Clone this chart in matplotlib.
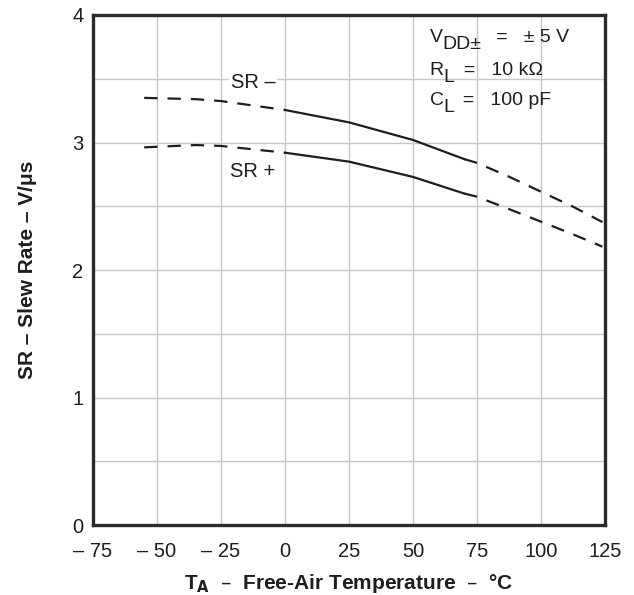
import matplotlib.pyplot as plt
import numpy as np

plt.rcParams['font.family'] = ['Liberation Sans', 'DejaVu Sans']

# temperature points (deg C)
temps = [-55, -35, -25, 0, 25, 50, 70, 75, 87.5, 100, 112.5, 124]
sr_minus = [3.35, 3.34, 3.325, 3.255, 3.158, 3.02, 2.87, 2.84, 2.732, 2.614, 2.497, 2.376]
sr_plus = [2.962, 2.98, 2.973, 2.92, 2.85, 2.73, 2.60, 2.575, 2.478, 2.379, 2.28, 2.183]

xticks = [-75, -50, -25, 0, 25, 50, 75, 100, 125]
xtick_labels = ['\u2013 75', '\u2013 50', '\u2013 25', '0', '25', '50', '75', '100', '125']
yticks = [0, 1, 2, 3, 4]

INK = '#1e1e1e'

fig = plt.figure(figsize=(6.34, 5.95), dpi=100)
ax = fig.add_axes([0.1467, 0.1176, 0.8075, 0.8572])

t = np.array(temps)
dash = (0, (6, 4.5))
for vals in (sr_minus, sr_plus):
    v = np.array(vals)
    lo = t <= 0
    mid = (t >= 0) & (t <= 70)
    hi = t >= 70
    ax.plot(t[lo], v[lo], color=INK, lw=1.6, ls=dash, zorder=3)
    ax.plot(t[mid], v[mid], color=INK, lw=1.6, zorder=3)
    ax.plot(t[hi], v[hi], color=INK, lw=1.6, ls=dash, zorder=3)

ax.set_xlim(-75, 125)
ax.set_ylim(0, 4)
ax.set_xticks(xticks)
ax.set_xticklabels(xtick_labels)
ax.set_yticks(yticks)
ax.set_yticks(np.arange(0, 4.01, 0.5), minor=True)
ax.grid(True, which='both', color='#c6c6ce', lw=1.0, zorder=0)
ax.tick_params(which='both', length=0, labelsize=14.5, colors=INK)
ax.tick_params(axis='x', pad=12)
ax.tick_params(axis='y', pad=7)
for s in ax.spines.values():
    s.set_linewidth(2.4)
    s.set_color('#2a2a2a')

ax.set_xlabel(r'T$_{\mathbf{A}}$  \u2013  Free-Air Temperature  \u2013  \u00b0C'
              .replace('\\u2013', '\u2013').replace('\\u00b0', '\u00b0'),
              fontsize=15, fontweight='bold', labelpad=8, color=INK)
ax.set_ylabel('SR \u2013 Slew Rate \u2013 V/\u03bcs', fontsize=15, fontweight='bold',
              labelpad=25, color=INK)

# condition box (hides grid behind it)
ax.add_patch(plt.Rectangle((51.5, 3.16), 63, 0.84, facecolor='white', edgecolor='none', zorder=1))


def sub_line(x, y, main, sub, rest, fs=14):
    t1 = ax.text(x, y, main, fontsize=fs, va='bottom', color=INK, zorder=4)
    t2 = ax.annotate(sub, xy=(1, 0), xycoords=t1, xytext=(-0.5, -5.5),
                     textcoords='offset points', fontsize=fs, va='bottom', color=INK, zorder=4)
    ax.annotate(rest, xy=(1, 0), xycoords=t2, xytext=(-1, 5.5),
                textcoords='offset points', fontsize=fs, va='bottom', color=INK, zorder=4)


sub_line(56.5, 3.76, 'V', 'DD\u00b1', '   =   \u00b1 5 V')
sub_line(56.5, 3.50, 'R', 'L', '  =   10 k\u03a9')
sub_line(56.5, 3.265, 'C', 'L', '  =   100 pF')

ax.text(-12.5, 3.47, 'SR \u2013', fontsize=14.5, ha='center', va='center', color=INK,
        bbox=dict(facecolor='white', edgecolor='none', pad=1), zorder=4)
ax.text(-12.5, 2.77, 'SR +', fontsize=14.5, ha='center', va='center', color=INK,
        bbox=dict(facecolor='white', edgecolor='none', pad=1), zorder=4)

plt.savefig('out.png', dpi=100)
